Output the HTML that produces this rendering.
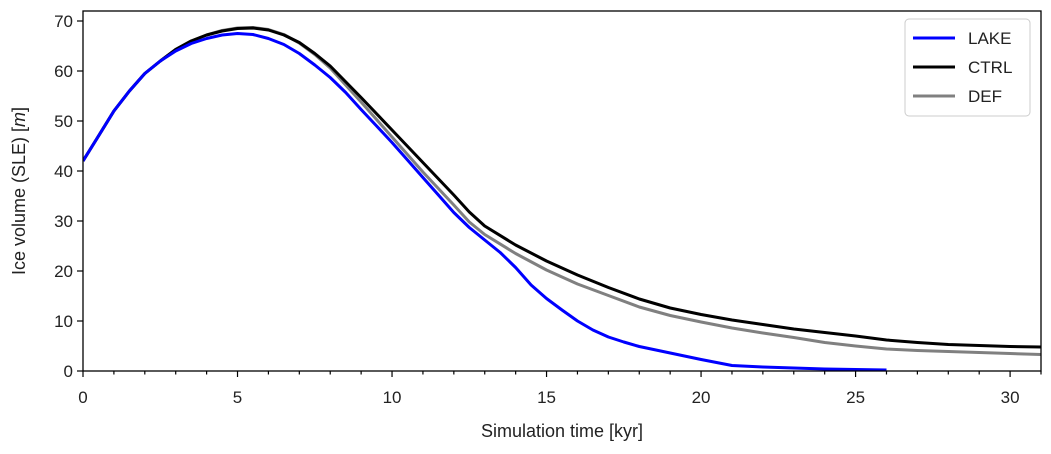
<!DOCTYPE html>
<html><head><meta charset="utf-8"><style>
body{margin:0;background:#fff}
svg text{font-family:"Liberation Sans","DejaVu Sans",sans-serif;fill:#222}
</style></head><body>
<svg id="chart" width="1051" height="449">
<g id="marks"></g><g id="axes"></g>
</svg>
<script>
const lakeT=[0,0.5,1,1.5,2,2.5,3,3.5,4,4.5,5,5.5,6,6.5,7,7.5,8,8.5,9,9.5,10,10.5,11,11.5,12,12.5,13,13.5,14,14.5,15,15.5,16,16.5,17,17.5,18,19,20,21,22,23,24,25,26];
const lakeV=[42,47,52,56,59.5,62,64,65.5,66.5,67.2,67.5,67.3,66.5,65.3,63.5,61.2,58.7,55.7,52.3,49,45.7,42.2,38.7,35.2,31.7,28.7,26.2,23.7,20.7,17.2,14.5,12.2,10,8.2,6.8,5.8,4.9,3.6,2.3,1.1,0.8,0.6,0.4,0.3,0.2];
const ctrlT=[0,0.5,1,1.5,2,2.5,3,3.5,4,4.5,5,5.5,6,6.5,7,7.5,8,9,10,11,12,12.5,13,14,15,16,17,18,19,20,21,22,23,24,25,26,27,28,29,30,31];
const ctrlV=[42,47,52,56,59.5,62,64.3,66,67.2,68,68.5,68.6,68.2,67.2,65.7,63.5,61,54.7,48.2,41.7,35.2,31.8,29,25.2,22,19.2,16.7,14.4,12.6,11.3,10.2,9.3,8.4,7.7,7,6.2,5.7,5.3,5.1,4.9,4.8];
const defT=[0,0.5,1,1.5,2,2.5,3,3.5,4,4.5,5,5.5,6,6.5,7,7.5,8,9,10,11,12,12.5,13,14,15,16,17,18,19,20,21,22,23,24,25,26,27,28,29,30,31];
const defV=[42,47,52,56,59.5,62,64.3,66,67.2,68.1,68.6,68.7,68.3,67.3,65.6,63.3,60.6,53.8,46.8,39.8,33.2,29.8,27.3,23.5,20.2,17.4,15.1,12.8,11.1,9.8,8.6,7.6,6.7,5.7,5,4.4,4.1,3.9,3.7,3.5,3.3];
const xTicks=[0,5,10,15,20,25,30];
const yTicks=[0,10,20,30,40,50,60,70];
const L=83,R=1041,T=11,B=371;
const x=t=>L+t*(R-L)/31;
const y=v=>B-v*(B-T)/72;
const NS="http://www.w3.org/2000/svg";
const marks=document.getElementById('marks'),axes=document.getElementById('axes');
function mk(tag,attrs,parent){const e=document.createElementNS(NS,tag);for(const k in attrs)e.setAttribute(k,attrs[k]);parent.appendChild(e);return e;}
function line(ts,vs,color,name){
  const p=mk('path',{d:ts.map((t,i)=>(i?'L':'M')+x(t).toFixed(1)+','+y(vs[i]).toFixed(1)).join(''),fill:'none',stroke:color,'stroke-width':3,'stroke-linejoin':'round'},marks);
  
  
}
const clip=mk('clipPath',{id:'c'},marks);mk('rect',{x:L,y:T,width:R-L,height:B-T},clip);
marks.setAttribute('clip-path','url(#c)');
line(defT,defV,'#808080','def-line');
line(ctrlT,ctrlV,'#000','ctrl-line');
line(lakeT,lakeV,'#0000ff','lake-line');
const fr=mk('rect',{x:L,y:T,width:R-L,height:B-T,fill:'none',stroke:'#000','stroke-width':1.3},axes);

for(let t=0;t<=31;t++){mk('line',{x1:x(t),x2:x(t),y1:B,y2:B+(xTicks.includes(t)?6:3.5),stroke:'#000','stroke-width':1.2},axes);}
xTicks.forEach(t=>{const e=mk('text',{x:x(t),y:B+32,'text-anchor':'middle','font-size':17},axes);e.textContent=t;
});
yTicks.forEach(v=>{mk('line',{x1:L-6,x2:L,y1:y(v),y2:y(v),stroke:'#000','stroke-width':1.2},axes);
const e=mk('text',{x:L-10,y:y(v)+6,'text-anchor':'end','font-size':17},axes);e.textContent=v;
});
const xt=mk('text',{x:(L+R)/2,y:437,'text-anchor':'middle','font-size':18},axes);xt.textContent='Simulation time [kyr]';

const yt=mk('text',{x:0,y:0,'text-anchor':'middle','font-size':18,transform:'translate(25,'+((T+B)/2)+') rotate(-90)'},axes);
yt.innerHTML='Ice volume (SLE) [<tspan font-style="italic">m</tspan>]';

const lg=mk('g',{},axes);
mk('rect',{x:905,y:19,width:125,height:97,rx:4,fill:'#fff',stroke:'#ccc'},lg);
[['LAKE','#0000ff'],['CTRL','#000'],['DEF','#808080']].forEach((d,i)=>{const yy=38+i*29;
const g=mk('g',{},lg);
mk('line',{x1:913,x2:955,y1:yy,y2:yy,stroke:d[1],'stroke-width':3},g);
const e=mk('text',{x:968,y:yy+6,'font-size':17},g);e.textContent=d[0];});
</script>
</body></html>
